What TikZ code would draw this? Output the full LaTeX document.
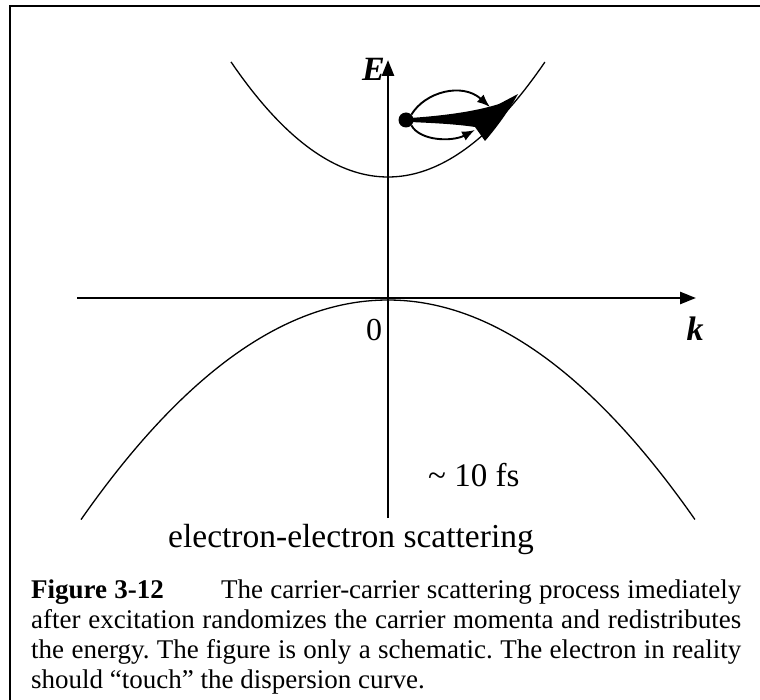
\documentclass[tikz,border=0pt]{standalone}
\usepackage{fontspec}
\setmainfont{Liberation Serif}
\usetikzlibrary{arrows.meta}
\begin{document}
\frenchspacing
\begin{tikzpicture}[x=1pt,y=-1pt,
  axisline/.style={line width=2.6pt,-{Triangle[length=16pt,width=12pt]}},
  band/.style={line width=1.3pt},
  scat/.style={line width=1.9pt,-{Latex[length=13pt,width=10pt]}},
  lab/.style={inner sep=0pt},
  captxt/.style={inner sep=0pt,anchor=base west,font=\fontsize{27}{30}\selectfont}]
\useasboundingbox (0,0) rectangle (760,700);
% frame
\coordinate (fb) at (10,700);
\coordinate (ftl) at (10,6);
\coordinate (fr) at (760,6);
\draw[line width=1.6pt] (fb) -- (ftl) -- (fr);
% axes
\coordinate (Ebot) at (388,518);
\coordinate (Etop) at (388,60);
\coordinate (kleft) at (77,298);
\coordinate (kright) at (696,298);
\draw[axisline] (Ebot) -- (Etop);
\draw[axisline] (kleft) -- (kright);
% bands
\draw[band] plot[domain=-1.57:1.57,samples=80] ({388+100*\x},{177-46.7*\x*\x});
\draw[band] plot[domain=-3.07:3.07,samples=100] ({388+100*\x},{300+23.3*\x*\x});
% labels
\node[lab,anchor=base east,font=\fontsize{34}{34}\selectfont\bfseries\itshape] (E) at (385,81) {E};
\node[lab,anchor=base,font=\fontsize{34}{34}\selectfont\bfseries\itshape] (k) at (695,341) {k};
\node[lab,anchor=base,font=\fontsize{32}{32}\selectfont] (zero) at (374,341) {0};
% electron
\node[circle,fill=black,inner sep=0pt,minimum size=15pt] (el) at (406,120) {};
% big wedge arrow
\coordinate (w0) at (410,118);
\coordinate (wtip) at (518,94);
\fill (w0) .. controls (440,116) and (474,112) .. (499,104)
  -- (wtip)
  .. controls (508,112) and (497,127) .. (485,141)
  -- (475,127)
  .. controls (455,124) and (432,123) .. (410,122) -- cycle;
% small arrows
\coordinate (u1) at (490,107);
\coordinate (l1) at (475,130);
\draw[scat] (el.north east) .. controls (425,92) and (462,82) .. (u1);
\draw[scat] (el.south east) .. controls (420,141) and (452,142) .. (l1);
% texts
\node[lab,anchor=base west,font=\fontsize{33}{36}\selectfont] (fs) at (428,486) {\textasciitilde{} 10 fs};
\node[lab,anchor=base,font=\fontsize{33.5}{40}\selectfont] (ee) at (351,547) {electron-electron scattering};
\node[captxt] (c1) at (31,598) {\makebox[710pt][s]{\textbf{Figure 3-12}\hspace{50pt} The carrier-carrier scattering process imediately}};
\node[captxt] (c2) at (31,628) {\makebox[710pt][s]{after excitation randomizes the carrier momenta and redistributes}};
\node[captxt] (c3) at (31,658) {\makebox[710pt][s]{the energy. The figure is only a schematic. The electron in reality}};
\node[captxt] (c4) at (31,688) {should “touch” the dispersion curve.};
\end{tikzpicture}
\end{document}
